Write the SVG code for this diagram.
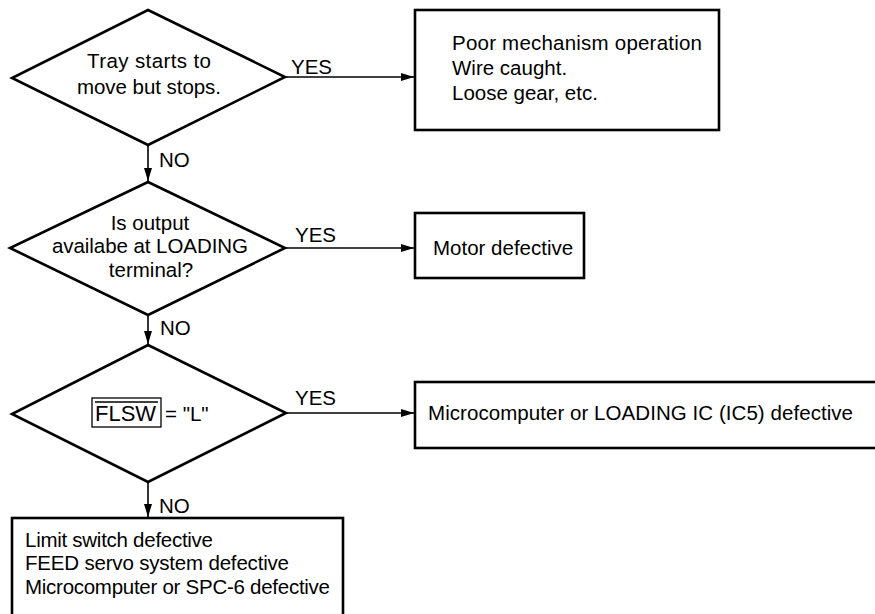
<svg xmlns="http://www.w3.org/2000/svg" width="875" height="614" viewBox="0 0 875 614">
  <style>
    .shape { fill: #ffffff; stroke: #000000; stroke-width: 2.6; stroke-linejoin: miter; }
    .conn { fill: none; stroke: #000000; stroke-width: 1.6; }
    .t { font-family: "Liberation Sans", Arial, Helvetica, sans-serif; font-size: 20.5px; fill: #000000; }
    .c { text-anchor: middle; }
  </style>
  <defs>
    <marker id="arrow" markerUnits="userSpaceOnUse" markerWidth="14" markerHeight="10" refX="13" refY="4" orient="auto">
      <path d="M0,0 L13,4 L0,8 z" fill="#000000"/>
    </marker>
  </defs>
  <rect x="0" y="0" width="875" height="614" fill="#ffffff"/>

  <g id="connectors">
    <line class="conn" x1="285" y1="77" x2="414" y2="77" marker-end="url(#arrow)"/>
    <text class="t" x="291" y="74">YES</text>
    <line class="conn" x1="148" y1="145" x2="148" y2="181" marker-end="url(#arrow)"/>
    <text class="t" x="159" y="167">NO</text>

    <line class="conn" x1="285" y1="248" x2="414" y2="248" marker-end="url(#arrow)"/>
    <text class="t" x="295" y="242">YES</text>
    <line class="conn" x1="148" y1="315" x2="148" y2="344" marker-end="url(#arrow)"/>
    <text class="t" x="160" y="335">NO</text>

    <line class="conn" x1="286" y1="413" x2="414" y2="413" marker-end="url(#arrow)"/>
    <text class="t" x="295" y="405">YES</text>
    <line class="conn" x1="148" y1="482" x2="148" y2="517" marker-end="url(#arrow)"/>
    <text class="t" x="159" y="513">NO</text>
  </g>

  <g id="d1">
    <polygon class="shape" points="148,10 285,77 148,145 12,78"/>
    <text class="t c" x="149" y="68" textLength="124">Tray starts to</text>
    <text class="t c" x="149" y="94" textLength="144">move but stops.</text>
  </g>

  <g id="b1">
    <rect class="shape" x="415" y="10" width="304" height="120"/>
    <text class="t" x="452" y="50" textLength="250">Poor mechanism operation</text>
    <text class="t" x="452" y="75">Wire caught.</text>
    <text class="t" x="452" y="100">Loose gear, etc.</text>
  </g>

  <g id="d2">
    <polygon class="shape" points="148,182 285,248 148,315 10,248"/>
    <text class="t c" x="150" y="230">Is output</text>
    <text class="t c" x="150" y="253" textLength="196">availabe at LOADING</text>
    <text class="t c" x="151" y="277">terminal?</text>
  </g>

  <g id="b2">
    <rect class="shape" x="415" y="213" width="169" height="65"/>
    <text class="t" x="433" y="255">Motor defective</text>
  </g>

  <g id="d3">
    <polygon class="shape" points="148,345 286,413 148,482 12,414"/>
    <rect x="92" y="398" width="69" height="29" fill="none" stroke="#000000" stroke-width="1.3"/>
    <line x1="95" y1="402" x2="158" y2="402" stroke="#000000" stroke-width="1.3"/>
    <text class="t" x="95" y="421" style="font-size:22px">FLSW</text>
    <text class="t" x="165" y="421">= "L"</text>
  </g>

  <g id="b3">
    <rect class="shape" x="415" y="382" width="470" height="66"/>
    <text class="t" x="428" y="420" textLength="425">Microcomputer or LOADING IC (IC5) defective</text>
  </g>

  <g id="b4">
    <rect class="shape" x="12" y="518" width="331" height="98"/>
    <text class="t" x="25" y="547" textLength="188">Limit switch defective</text>
    <text class="t" x="25" y="570" textLength="264">FEED servo system defective</text>
    <text class="t" x="25" y="594" textLength="305">Microcomputer or SPC-6 defective</text>
  </g>
</svg>
